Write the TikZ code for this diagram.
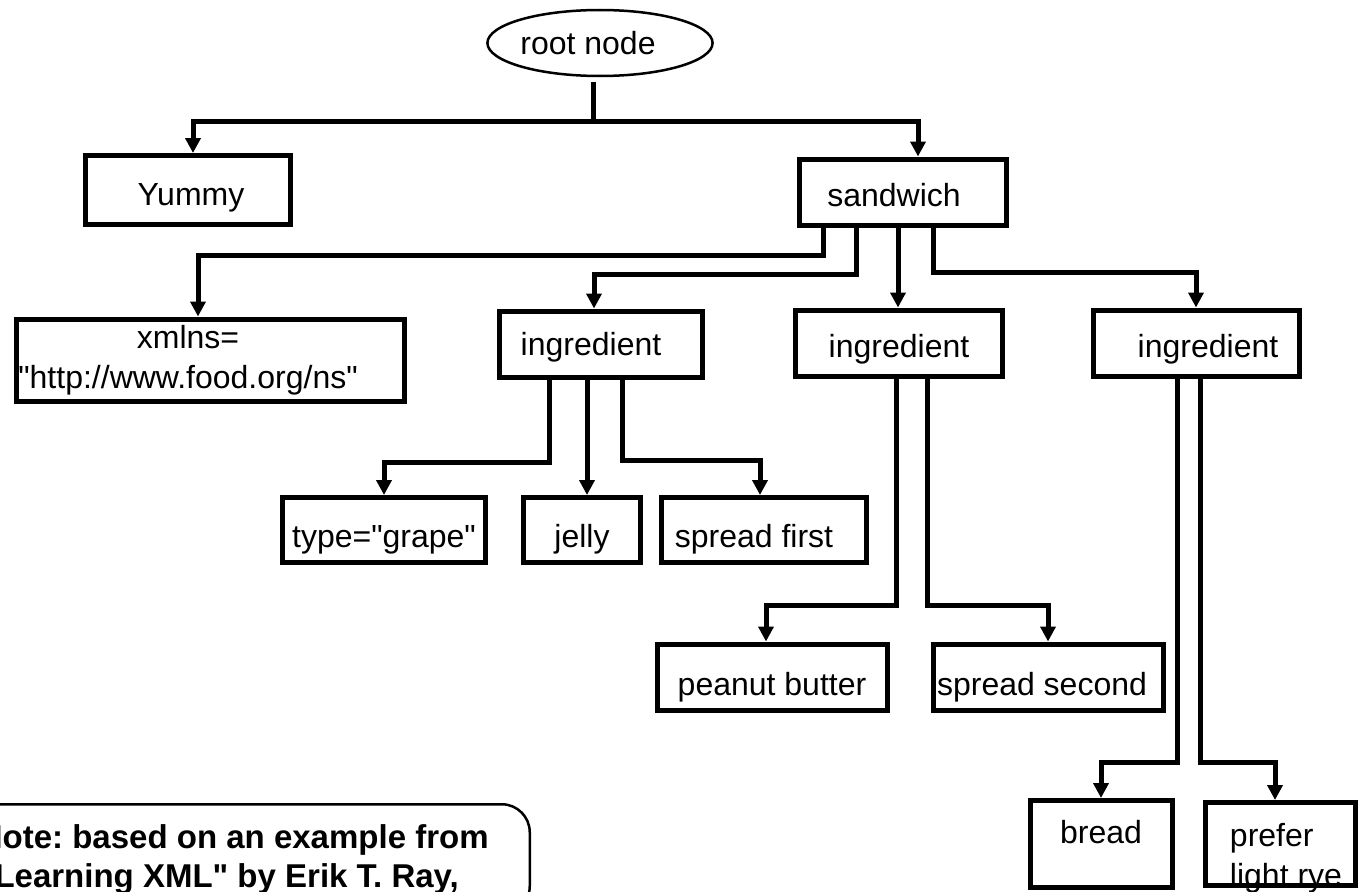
\documentclass[tikz,border=0pt]{standalone}
\usepackage{fontspec}
\setmainfont{Liberation Sans}[Ligatures=TeXOff]
\usetikzlibrary{shapes,shapes.geometric,positioning,calc,arrows.meta}
\frenchspacing

\begin{document}
\begin{tikzpicture}[x=1pt, y=-1pt,
    font=\fontsize{32}{40}\selectfont,
    box/.style={draw, line width=5pt, rectangle, inner sep=0pt, align=center},
    word/.style={text height=#1, text depth=0pt},
    word/.default=28pt,
    link/.style={line width=5pt, -{Triangle[length=15pt,width=15pt]}}]

    % Page frame
    \useasboundingbox (0,0) rectangle (1364,891);
    \clip (0,0) rectangle (1364,891);

    % Root
    \node[ellipse, draw, line width=2.5pt, minimum width=222pt, minimum height=66pt, inner sep=0pt, word=24pt] (root) at (600,43) {root node\hspace*{24pt}};

    % First level
    \node[box, word=30pt, minimum width=205pt, minimum height=69pt] (yummy) at (188,190) {\hspace*{6pt}Yummy};
    \node[box, word, minimum width=207pt, minimum height=66pt] (sandwich) at (903,192) {sandwich\hspace*{18pt}};

    % Children of sandwich
    \node[box, minimum width=388pt, minimum height=82pt] (xmlns) at (210,360) {xmlns=\hspace*{44pt}\\"http://www.food.org/ns"\hspace*{44pt}};
    \node[box, word=22pt, minimum width=203pt, minimum height=66pt] (ing1) at (601,344) {ingredient\hspace*{20pt}};
    \node[box, word, minimum width=207pt, minimum height=66pt] (ing2) at (899,343) {ingredient};
    \node[box, word, minimum width=206pt, minimum height=66pt] (ing3) at (1196,343) {\hspace*{24pt}ingredient};

    % Leaves
    \node[box, word=34pt, minimum width=203pt, minimum height=65pt] (grape) at (384,530) {type="grape"};
    \node[box, word=34pt, minimum width=117pt, minimum height=65pt] (jelly) at (582,530) {jelly};
    \node[box, word=34pt, minimum width=205pt, minimum height=65pt] (first) at (764,530) {spread first\hspace*{20pt}};
    \node[box, word=37pt, minimum width=230pt, minimum height=66pt] (peanut) at (772,677) {peanut butter};
    \node[box, word=37pt, minimum width=230pt, minimum height=66pt] (second) at (1048,677) {spread second\hspace*{12pt}};
    \node[box, text height=24pt, text depth=26pt, minimum width=142pt, minimum height=87pt] (bread) at (1101,844) {bread};
    \node[box, minimum width=150pt, minimum height=83pt,
        label={[align=left, inner sep=0pt, xshift=6pt, yshift=-14pt]center:prefer\\light rye}] (prefer) at (1280,844) {};

    % Note
    \node[draw, line width=2.5pt, rounded corners=28pt, anchor=north east, minimum width=592pt, minimum height=110pt,
        align=left, font=\bfseries\fontsize{33}{39}\selectfont] (note) at (531,803)
        {Note: based on an example from\\"Learning XML" by Erik T. Ray,};

    % Connectors
    \draw[link] ([xshift=-7pt,yshift=-5pt]root.south) -- ++(0,39) -| ([xshift=5pt]yummy.north);
    \draw[link] ([xshift=-7pt,yshift=-5pt]root.south) -- ++(0,39) -| ([xshift=15pt]sandwich.north);

    \draw[link] ([xshift=-80pt]sandwich.south) -- ++(0,28) -| ([xshift=-12pt]xmlns.north);
    \draw[link] ([xshift=-47pt]sandwich.south) -- ++(0,47) -| ([xshift=-7pt]ing1.north);
    \draw[link] ([xshift=-5pt]sandwich.south) -- ([xshift=-1pt]ing2.north);
    \draw[link] ([xshift=30pt]sandwich.south) -- ++(0,45) -| (ing3.north);

    \draw[link] ([xshift=-52pt]ing1.south) -- ++(0,83) -| (grape.north);
    \draw[link] ([xshift=-14pt]ing1.south) -- ([xshift=5pt]jelly.north);
    \draw[link] ([xshift=21pt]ing1.south) -- ++(0,81) -| ([xshift=-4pt]first.north);

    \draw[link] ([xshift=-3pt]ing2.south) -- ++(0,227) -| ([xshift=-6pt]peanut.north);
    \draw[link] ([xshift=28pt]ing2.south) -- ++(0,227) -| (second.north);

    \draw[link] ([xshift=-19pt]ing3.south) -- ++(0,384) -| (bread.north);
    \draw[link] ([xshift=4pt]ing3.south) -- ++(0,384) -| ([xshift=-5pt]prefer.north);

\end{tikzpicture}
\end{document}
